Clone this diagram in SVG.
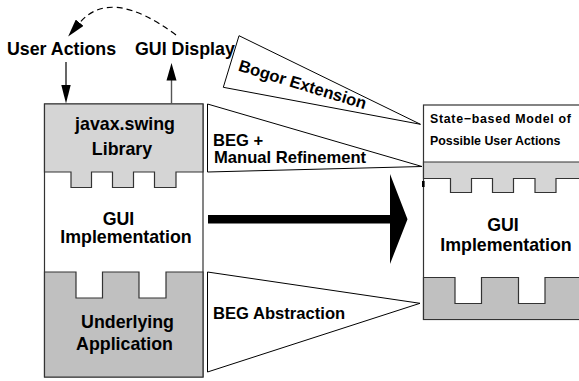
<svg xmlns="http://www.w3.org/2000/svg" width="579" height="381" viewBox="0 0 579 381">
  <style>
    text { font-family: "Liberation Sans", Arial, Helvetica, sans-serif; font-weight: bold; fill: #000; }
    .big { font-size: 17.8px; }
    .mid { font-size: 16.6px; }
    .small { font-size: 12.4px; }
    .big-c { text-anchor: middle; }
    .frame { fill: #fff; stroke: #333; stroke-width: 1.2; }
    .light { fill: #d5d5d5; stroke: #333; stroke-width: 1.2; }
    .dark { fill: #c0c0c0; stroke: #333; stroke-width: 1.2; }
    .wedge { fill: #fff; stroke: #000; stroke-width: 1; stroke-linejoin: miter; }
    .line { fill: none; stroke: #000; stroke-width: 1.2; }
  </style>
  <defs>
    <marker id="dashHead" viewBox="0 0 18 10" refX="1" refY="5" markerWidth="18" markerHeight="10" markerUnits="userSpaceOnUse" orient="auto">
      <path d="M0,0 L18,5 L0,10 Z" fill="#000"/>
    </marker>
  </defs>

  <rect width="579" height="381" fill="#fff"/>

  <!-- left stack: library / implementation / application -->
  <g id="left-stack">
    <rect class="frame" x="44.5" y="104" width="158.5" height="273"/>
    <g id="swing-library">
      <path class="light" d="M44.5,104 H203 V172 H176 V187.5 H154.5 V172 H133.5 V187.5 H112.5 V172 H91.5 V187.5 H71 V172 H44.5 Z"/>
      <text class="big big-c" x="125" y="130">javax.swing</text>
      <text class="big big-c" x="122" y="155">Library</text>
    </g>
    <g id="gui-implementation">
      <text class="big big-c" x="118.5" y="225">GUI</text>
      <text class="big big-c" x="126" y="243">Implementation</text>
    </g>
    <g id="underlying-application">
      <path class="dark" d="M44.5,272 H76 V298 H102.5 V272 H139 V298 H166 V272 H203 V377 H44.5 Z"/>
      <text class="big big-c" x="127.5" y="328">Underlying</text>
      <text class="big big-c" x="124.5" y="350">Application</text>
    </g>
  </g>

  <!-- right stack: model / implementation -->
  <g id="right-stack">
    <rect class="frame" x="423.5" y="105" width="160" height="214.5"/>
    <g id="user-action-model">
      <text class="small" x="430" y="122.7" font-size="12.9" textLength="141" lengthAdjust="spacing">State−based Model of</text>
      <text class="small" x="430" y="145">Possible User Actions</text>
    </g>
    <path class="light" d="M423.5,162 H583 V178.5 H556 V192.5 H535 V178.5 H513.5 V192.5 H492.5 V178.5 H471.5 V192.5 H450.5 V178.5 H423.5 Z"/>
    <rect x="422" y="181" width="2.6" height="6" fill="#000"/>
    <g id="gui-implementation-model">
      <text class="big big-c" x="503" y="231">GUI</text>
      <text class="big big-c" x="506" y="250.5">Implementation</text>
    </g>
    <path class="dark" d="M423.5,277.5 H455 V303.5 H481.5 V277.5 H518.5 V303.5 H545 V277.5 H583 V319.5 H423.5 Z"/>
  </g>

  <!-- user interaction labels -->
  <g id="user-actions">
    <text class="big" x="7" y="55">User Actions</text>
  </g>
  <g id="gui-display">
    <text class="big" x="135" y="55">GUI Display</text>
  </g>

  <g id="connectors">
    <!-- feedback loop from display back to user actions -->
    <path class="line" d="M176,35 Q110,-14 79,23.5" stroke-dasharray="6,4" marker-end="url(#dashHead)"/>
    <!-- user input into the library -->
    <line class="line" x1="66" y1="62" x2="66" y2="86"/>
    <path d="M61.3,85 L70.7,85 L66,103.5 Z" fill="#000"/>
    <!-- library output to the display -->
    <line x1="171.5" y1="104" x2="171.5" y2="79" stroke="#555" stroke-width="1.4"/>
    <path d="M166.5,80.5 L176.5,80.5 L171.5,63 Z" fill="#000"/>

    <!-- transformation wedges -->
    <g id="bogor-extension">
      <path class="wedge" d="M239,35.7 L223.3,87.3 L420.5,124.3 Z"/>
      <text class="mid" transform="translate(237.5,70.5) rotate(17)">Bogor Extension</text>
    </g>
    <g id="beg-manual">
      <path class="wedge" d="M207.5,104 L207.5,172 L422,166.5 Z"/>
      <text class="mid" x="213" y="145.5">BEG +</text>
      <text class="mid" x="214" y="163">Manual Refinement</text>
    </g>
    <g id="beg-abstraction">
      <path class="wedge" d="M207.5,272 L207.5,372 L420,303.3 Z"/>
      <text class="mid" x="213" y="319">BEG Abstraction</text>
    </g>

    <!-- main translation arrow -->
    <path d="M208,215 H390 V174 L407.5,219.3 L390,264 V223.5 H208 Z" fill="#000"/>
  </g>
</svg>
